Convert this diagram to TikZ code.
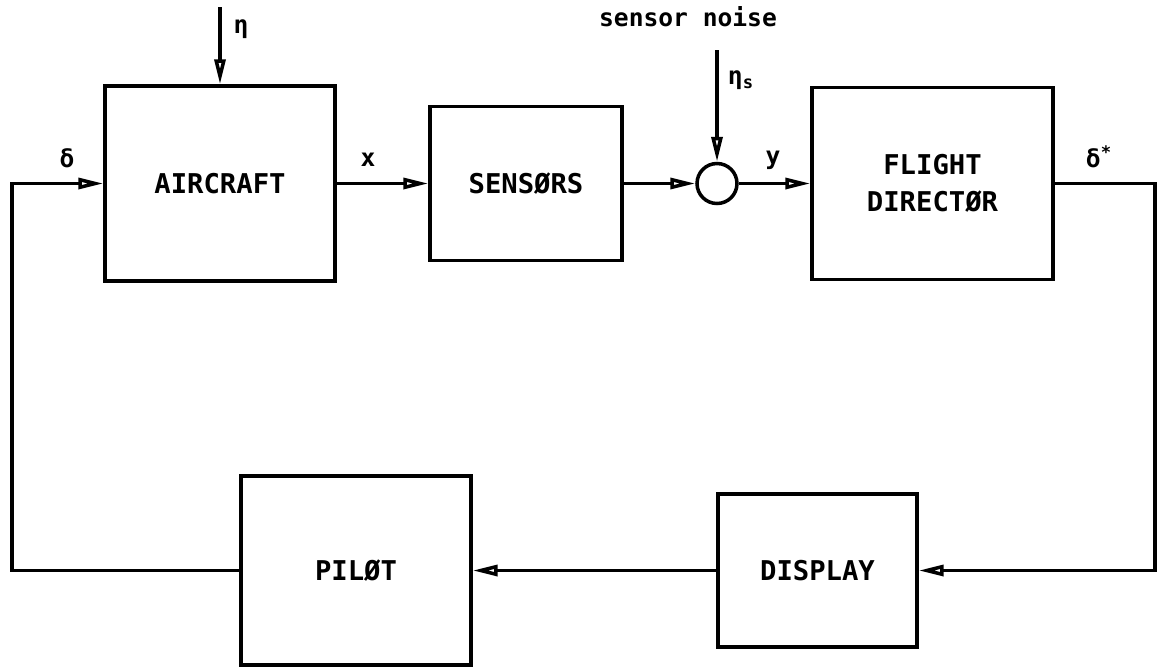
\documentclass[tikz,border=0pt]{standalone}
\usepackage{fontspec}
\setmonofont{DejaVu Sans Mono}
\usetikzlibrary{arrows.meta}

\begin{document}
\begin{tikzpicture}[x=0.02cm, y=-0.02cm, line width=2pt,
  blk/.style={draw, line width=2pt, align=center, inner sep=0pt,
    font=\ttfamily\bfseries\fontsize{15.5}{21}\selectfont},
  flow/.style={-{Triangle[open, length=0.5cm, width=0.22cm]}},
  lbl/.style={font=\ttfamily\bfseries\fontsize{14}{16}\selectfont}]

  \useasboundingbox (0,0) rectangle (1159,667);

  % --- BLOCKS ---
  \node[blk, minimum width=4.6cm, minimum height=3.9cm] (aircraft) at (220,183.5) {AIRCRAFT};
  \node[blk, minimum width=3.84cm, minimum height=3.08cm] (sensors) at (526,183.5) {SENSØRS};
  \node[draw, circle, minimum size=0.8cm, inner sep=0pt] (sum) at (717,183.5) {};
  \node[blk, minimum width=4.82cm, minimum height=3.84cm] (director) at (932.5,183.5) {FLIGHT\\DIRECTØR};
  \node[blk, minimum width=3.98cm, minimum height=3.06cm] (display) at (817.5,570.5) {DISPLAY};
  \node[blk, minimum width=4.6cm, minimum height=3.78cm] (pilot) at (356,570.5) {PILØT};

  % --- INPUTS ---
  \coordinate (distin) at (220,7);
  \coordinate (noisein) at (717,50);
  \node[lbl] (noise) at (688,17) {sensor noise};
  \draw[flow] (distin) -- (aircraft.north);
  \node[lbl] (eta) at (241,29) {η};
  \draw[flow] (noisein) -- (sum.north);
  \node[lbl] (etas) at (741,80) {η\textsubscript{s}};

  % --- FORWARD PATH ---
  \draw[flow] (aircraft.east) -- (sensors.west);
  \node[lbl] (xlbl) at (368,160) {x};
  \draw[flow] (sensors.east) -- (sum.west);
  \draw[flow] (sum.east) -- (director.west);
  \node[lbl] (ylbl) at (773,160) {y};

  % --- FEEDBACK LOOP ---
  \coordinate (rcorner) at (1155,183.5);
  \coordinate (lcorner) at (12,183.5);
  \draw[flow] (director.east) -- (rcorner) |- (display.east);
  \node[lbl] (dstar) at (1099,157) {δ\textsuperscript{*}};
  \draw[flow] (display.west) -- (pilot.east);
  \draw[flow] (pilot.west) -| (lcorner) -- (aircraft.west);
  \node[lbl] (delta) at (67,158) {δ};

\end{tikzpicture}
\end{document}
